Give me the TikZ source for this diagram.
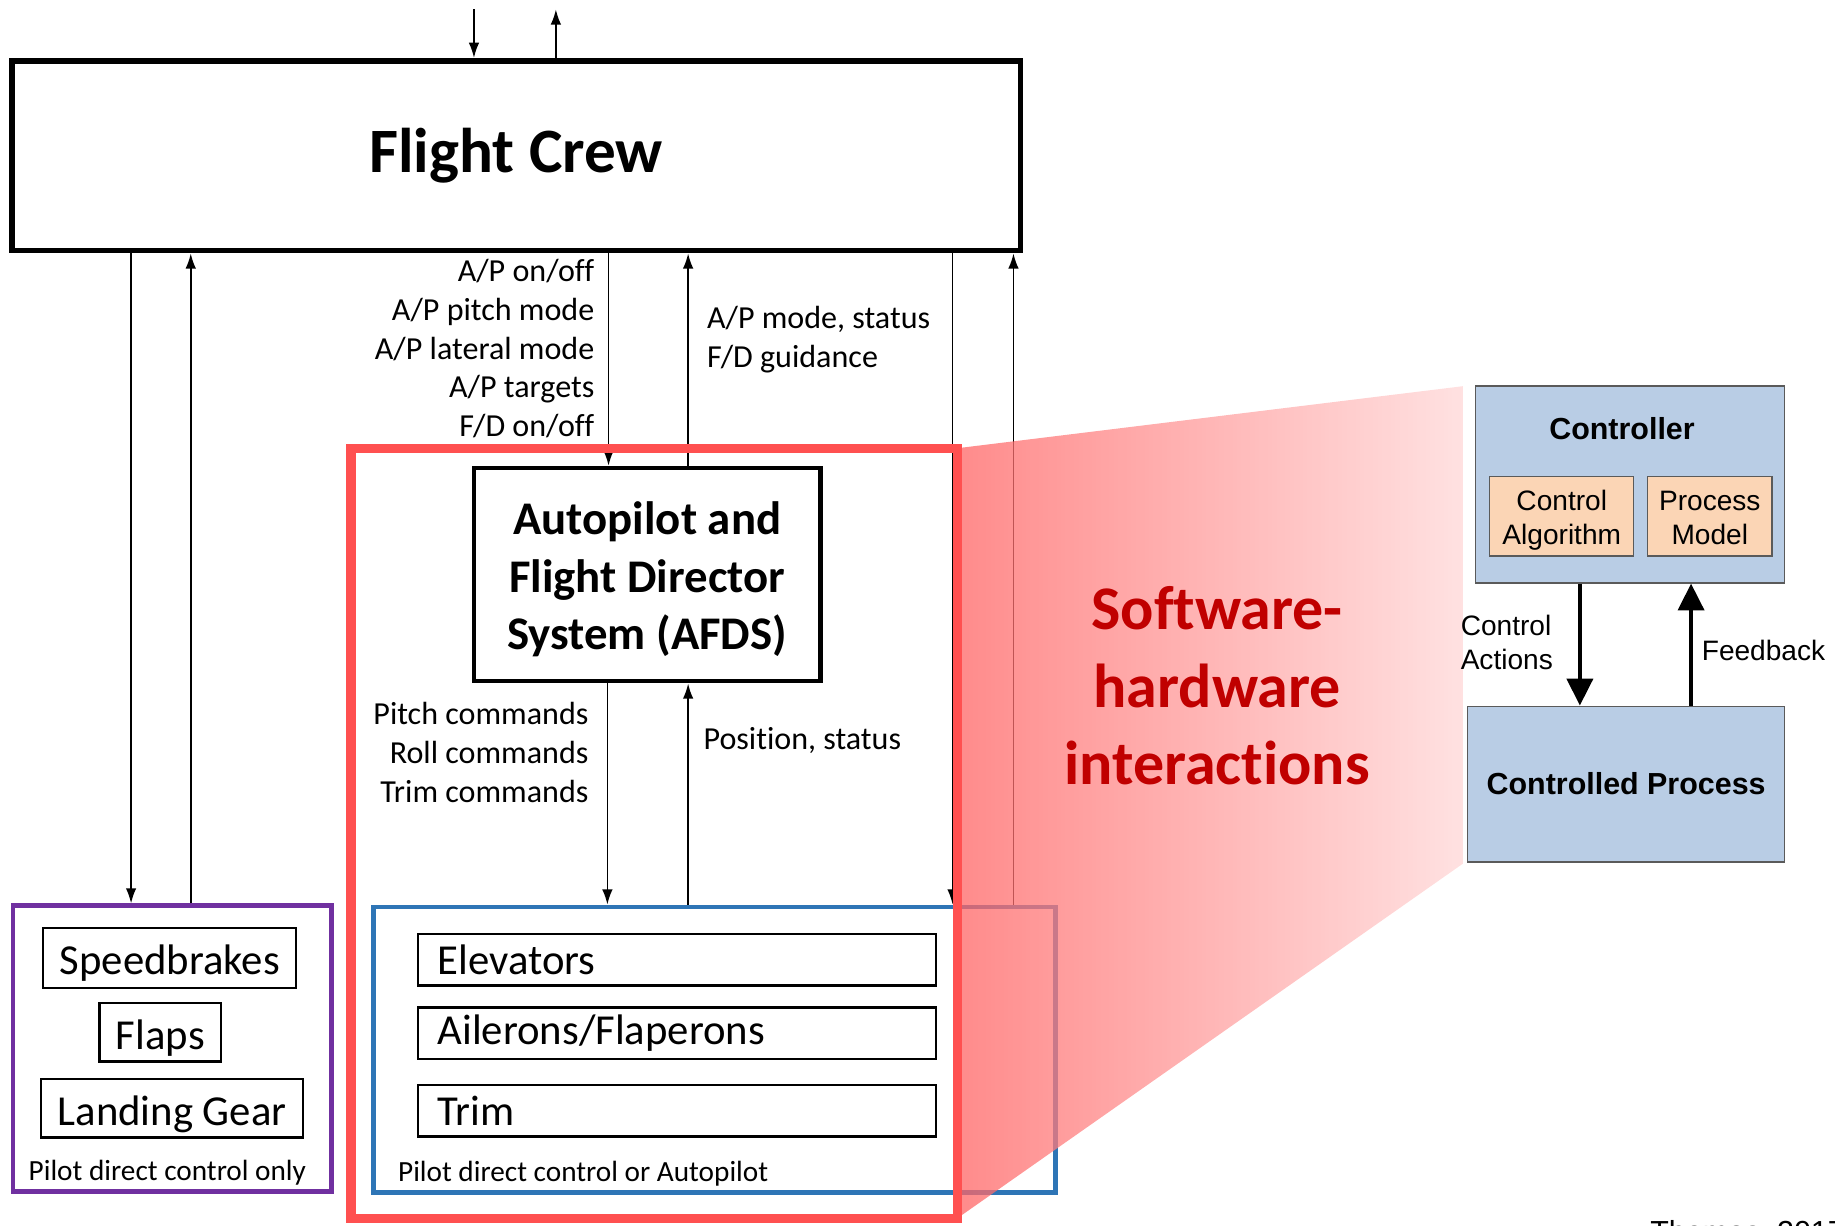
\documentclass[tikz,border=0pt]{standalone}
\usepackage{fontspec}
\setmainfont{Carlito}[Ligatures=NoCommon]
\newfontfamily\arialfont{Liberation Sans}
\usetikzlibrary{arrows.meta,positioning}

\definecolor{framered}{RGB}{255,80,80}
\definecolor{frameblue}{RGB}{46,117,182}
\definecolor{framepurple}{RGB}{112,48,160}
\definecolor{textred}{RGB}{192,0,0}
\definecolor{wedgeleft}{RGB}{255,100,100}
\definecolor{wedgeright}{RGB}{255,215,215}
\definecolor{ctrlblue}{RGB}{185,205,229}
\definecolor{ctrlpeach}{RGB}{251,213,181}
\definecolor{ctrledge}{RGB}{90,90,90}

\begin{document}
\begin{tikzpicture}[x=1pt, y=-1pt,
  arr/.style={line width=1.5pt, -{Latex[length=13pt,width=9pt]}},
  bigarr/.style={line width=4pt, -{Triangle[length=23pt,width=22pt]}},
  frame/.style={line width=4pt, minimum height=244},
  partbox/.style={draw, line width=2pt, inner sep=0pt, font=\fontsize{36.5}{40}\selectfont},
  pilotbox/.style={partbox, text height=29pt, text depth=0pt},
  surface/.style={partbox, minimum height=44, text width=409, inner xsep=17pt, align=left},
  lbl/.style={font=\fontsize{27.4}{33}\selectfont, inner sep=0pt},
  note/.style={font=\fontsize{25}{28}\selectfont, inner sep=0pt},
  ctrlbox/.style={draw=ctrledge, line width=1.2pt, fill=ctrlblue},
  algbox/.style={draw=ctrledge, line width=1.2pt, fill=ctrlpeach, minimum height=68,
    align=center, font=\arialfont\fontsize{24}{29}\selectfont, inner sep=0pt}
]
\useasboundingbox (0,0) rectangle (1568,1047);

% flight crew
\node[draw, line width=5pt, minimum width=862, minimum height=162,
  font=\bfseries\fontsize{54}{60}\selectfont] (crew) at (441,133) {Flight Crew};
\coordinate (crewin) at (405,8);
\coordinate (crewout) at (475,8);
\draw[arr] (crewin) -- (crew.north -| crewin);
\draw[arr] (crew.north -| crewout) -- (crewout);

% autopilot
\node[draw, line width=4pt, minimum width=296, minimum height=182, align=center,
  font=\bfseries\fontsize{40}{49}\selectfont] (afds) at (553,491)
  {\rule{0pt}{36pt}Autopilot and\\Flight Director\\System (AFDS)};

% controlled surfaces
\node[frame, draw=framepurple, minimum width=272] (grpdirect) at (147,896) {};
\node[frame, draw=frameblue, minimum width=583] (grpauto) at (610.5,897) {};

\node[pilotbox, minimum width=216, minimum height=51] (speedbrakes) at (145,818.5) {Speedbrakes};
\node[pilotbox, minimum width=104, minimum height=50] (flaps) at (137,882) {Flaps};
\node[pilotbox, minimum width=224, minimum height=50] (gear) at (147,947) {Landing Gear};
\node[note] (directlbl) at (143,1002) {Pilot direct control only};

\node[surface] (elevators) at (578.5,820) {Elevators};
\node[surface] (ailerons) at (578.5,883) {Ailerons/Flaperons};
\node[surface] (trim) at (578.5,949) {Trim};
\node[note, anchor=west] (autolbl) at (340,1003) {Pilot direct control or Autopilot};

% crew links
\draw[arr] (crew.south -| 112,0) -- (grpdirect.north -| 112,0);
\draw[arr] (grpdirect.north -| 163,0) -- (crew.south -| 163,0);
\draw[arr] (crew.south -| 520,0) -- (afds.north -| 520,0);
\draw[arr] (afds.north -| 588,0) -- (crew.south -| 588,0);
\draw[arr] (crew.south -| 814,0) -- (grpauto.north -| 814,0);
\draw[arr] (grpauto.north -| 866,0) -- (crew.south -| 866,0);

\node[lbl, anchor=east, align=right] (cmdlbl) at (508,298)
  {A/P on/off\\A/P pitch mode\\A/P lateral mode\\A/P targets\\F/D on/off};
\node[lbl, anchor=west, align=left] (statuslbl) at (604,290)
  {A/P mode, status\\F/D guidance};

% afds links
\draw[arr] (afds.south -| 519,0) -- (grpauto.north -| 519,0);
\draw[arr] (grpauto.north -| 588,0) -- (afds.south -| 588,0);
\node[lbl, anchor=east, align=right] (surfcmd) at (503,643)
  {Pitch commands\\Roll commands\\Trim commands};
\node[lbl, anchor=west] (poslbl) at (601,633) {Position, status};

% software-hardware frame and wedge
\node[outer sep=0pt, minimum width=518, minimum height=658] (swhw) at (559,712) {};
\shade[left color=wedgeleft, right color=wedgeright, fill opacity=0.75]
  (swhw.north east) -- (1250,330) -- (1250,738) -- (swhw.south east) -- cycle;
\draw[framered, line width=8pt] (swhw.north west) rectangle (swhw.south east);
\node[text=textred, align=center, font=\bfseries\fontsize{53}{66}\selectfont] (swhwlbl)
  at (1040,586) {Software-\\hardware\\interactions};

% control loop
\node[ctrlbox, minimum width=264, minimum height=168] (ctrl) at (1393,414) {};
\node[font=\arialfont\bfseries\fontsize{26}{30}\selectfont] (ctrllbl) at (1386,366) {Controller};
\node[algbox, minimum width=123] (alg) at (1334.5,441) {\rule{0pt}{24pt}Control\\Algorithm};
\node[algbox, minimum width=106] (model) at (1461,441) {\rule{0pt}{24pt}Process\\Model\vphantom{g}};
\node[ctrlbox, minimum width=271, minimum height=133,
  font=\arialfont\bfseries\fontsize{26}{30}\selectfont] (proc) at (1389.5,670) {Controlled Process};
\draw[bigarr] (ctrl.south -| 1350,0) -- (proc.north -| 1350,0);
\draw[bigarr] (proc.north -| 1445,0) -- (ctrl.south -| 1445,0);
\node[anchor=west, align=left, inner sep=0pt, font=\arialfont\fontsize{24}{29}\selectfont]
  (actlbl) at (1248,549) {Control\\Actions};
\node[anchor=west, inner sep=0pt, font=\arialfont\fontsize{24}{29}\selectfont]
  (fblbl) at (1454,556) {Feedback};

% source
\begin{scope}
\clip (0,0) rectangle (1568,1047);
\node[anchor=north west, inner sep=0pt, font=\arialfont\fontsize{26}{30}\selectfont]
  (source) at (1410,1042.5) {Thomas, 2017};
\end{scope}

\end{tikzpicture}
\end{document}
